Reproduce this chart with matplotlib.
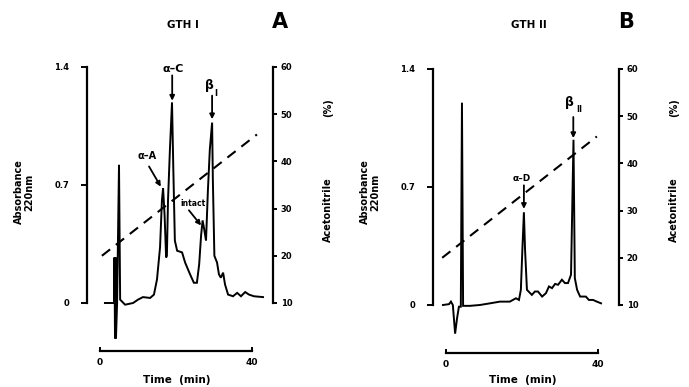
import numpy as np
import matplotlib.pyplot as plt

t_a = [1.3, 3.4, 3.7, 3.8, 3.95, 4.1, 4.2, 4.5, 5.0, 5.3, 6.6, 8.7, 10.0, 11.3,
       13.2, 14.2, 15.0, 15.8, 16.3, 16.6, 17.0, 17.4, 17.6, 17.9, 18.4, 18.95,
       19.3, 19.7, 20.3, 21.6, 22.4, 23.7, 24.7, 25.5, 26.1, 26.6, 27.0, 27.4,
       27.9, 28.4, 28.9, 29.5, 29.7, 30.1, 30.8, 31.3, 31.8, 32.4, 32.9, 33.7,
       35.0, 36.1, 37.1, 38.2, 39.2, 40.5, 42.9]
abs_a = [0.0, 0.0, 0.0, 0.27, -0.21, 0.27, -0.21, 0.0, 0.82, 0.02, -0.01, 0.0,
         0.02, 0.035, 0.03, 0.05, 0.14, 0.33, 0.61, 0.68, 0.52, 0.27, 0.28,
         0.61, 0.91, 1.19, 0.79, 0.37, 0.31, 0.30, 0.24, 0.17, 0.12, 0.12, 0.23,
         0.40, 0.49, 0.44, 0.37, 0.67, 0.91, 1.07, 0.73, 0.28, 0.24, 0.17, 0.15,
         0.18, 0.11, 0.05, 0.04, 0.06, 0.04, 0.065, 0.05, 0.04, 0.035]

t_b = [-0.8, 0.8, 1.3, 1.8, 2.4, 2.9, 3.4, 3.9, 4.2, 4.5, 6.3, 8.9, 11.6, 14.2,
       16.8, 18.4, 19.2, 19.7, 20.1, 20.5, 20.8, 21.3, 22.6, 23.4, 24.2, 25.3,
       26.3, 27.1, 27.9, 28.7, 29.5, 30.5, 31.3, 32.1, 32.9, 33.55, 33.9, 34.5,
       35.3, 36.1, 36.8, 37.6, 38.7, 39.7, 40.8]
abs_b = [0.0, 0.005, 0.02, 0.0, -0.17, -0.08, -0.01, -0.01, 1.20, -0.005,
         -0.005, 0.0, 0.01, 0.02, 0.02, 0.04, 0.03, 0.09, 0.33, 0.55, 0.33, 0.09,
         0.06, 0.08, 0.08, 0.05, 0.07, 0.11, 0.10, 0.125, 0.12, 0.15, 0.13, 0.13,
         0.18, 0.98, 0.16, 0.09, 0.05, 0.05, 0.05, 0.03, 0.03, 0.02, 0.01]

# Gradiente de acetonitrilo (%)
grad_a_t = [0.5, 41.3]
grad_b_t = [-1.0, 39.7]
grad_acn = [20, 45.7]

abs_ticks = [0, 0.7, 1.4]
abs_ticklabels = ['0', '0.7', '1.4']
acn_ticks = [10, 20, 30, 40, 50, 60]
time_ticks = [0, 40]

W, H = 689, 387
PX_MIN = 3.8      # pixeles por minuto
PX_ABS = 168.6    # pixeles por unidad de absorbancia
TMIN, TMAX = -10, 50
AMIN, AMAX = -0.45, 1.6


def acn_de_abs(a):
    return 10 + a * 50 / 1.4


def panel(fig, x0, y0, t, a, gt, titulo, letra):
    left = (x0 + PX_MIN * TMIN) / W
    width = PX_MIN * (TMAX - TMIN) / W
    bottom = (H - (y0 - PX_ABS * AMIN)) / H
    height = PX_ABS * (AMAX - AMIN) / H
    ax = fig.add_axes([left, bottom, width, height])
    ax.set_xlim(TMIN, TMAX)
    ax.set_ylim(AMIN, AMAX)
    ax.patch.set_visible(False)

    ax.plot(t, a, color='k', lw=1.4, solid_joinstyle='miter')

    for s in ['top', 'right']:
        ax.spines[s].set_visible(False)
    ax.spines['left'].set_position(('data', -3.3))
    ax.spines['left'].set_bounds(0, 1.4)
    ax.spines['left'].set_linewidth(1.6)
    ax.spines['bottom'].set_position(('data', -0.285))
    ax.spines['bottom'].set_bounds(0, 40)
    ax.spines['bottom'].set_linewidth(1.6)
    ax.set_yticks(abs_ticks)
    ax.set_yticklabels(abs_ticklabels)
    ax.set_xticks(time_ticks)
    ax.tick_params(axis='y', direction='out', length=4, width=1.4, pad=9,
                   labelsize=6)
    ax.tick_params(axis='x', direction='in', length=3, width=1.4, pad=5,
                   labelsize=6.5)
    for lab in ax.get_xticklabels() + ax.get_yticklabels():
        lab.set_fontweight('bold')

    ax2 = ax.twinx()
    ax2.set_ylim(acn_de_abs(AMIN), acn_de_abs(AMAX))
    for s in ['top', 'left', 'bottom']:
        ax2.spines[s].set_visible(False)
    ax2.spines['right'].set_position(('data', 45.4))
    ax2.spines['right'].set_bounds(10, 60)
    ax2.spines['right'].set_linewidth(1.6)
    ax2.set_yticks(acn_ticks)
    ax2.tick_params(axis='y', direction='out', length=3, width=1.4, pad=3,
                    labelsize=6)
    for lab in ax2.get_yticklabels():
        lab.set_fontweight('bold')
    ax2.plot(gt, grad_acn, color='k', lw=1.5, dashes=(5, 3.5))

    # etiquetas de los ejes
    fig.text((x0 - 76) / W, 1 - 192 / H, 'Absorbance\n220nm', rotation=90,
             ha='center', va='center', fontsize=7, fontweight='bold',
             linespacing=1.0)
    fig.text((x0 + 228) / W, 1 - 210 / H, 'Acetonitrile', rotation=90,
             ha='center', va='center', fontsize=7, fontweight='bold')
    fig.text((x0 + 228) / W, 1 - 108 / H, '(%)', rotation=90,
             ha='center', va='center', fontsize=7, fontweight='bold')
    fig.text((x0 + 77) / W, 1 - 380 / H, 'Time  (min)', ha='center',
             va='center', fontsize=7.5, fontweight='bold')
    fig.text((x0 + 83) / W, 1 - 25 / H, titulo, ha='center', va='center',
             fontsize=7.5, fontweight='bold')
    fig.text((x0 + 180) / W, 1 - 22 / H, letra, ha='center', va='center',
             fontsize=15, fontweight='bold')
    return ax


def flecha(ax, cola, punta):
    ax.annotate('', xy=punta, xytext=cola,
                arrowprops=dict(arrowstyle='-|>', color='k', lw=1.3,
                                mutation_scale=7, shrinkA=0, shrinkB=0))


fig = plt.figure(figsize=(W / 100, H / 100), dpi=100)

axA = panel(fig, 100, 303, t_a, abs_a, grad_a_t, 'GTH I', 'A')
axA.text(19.2, 1.39, 'α–C', ha='center', va='center', fontsize=8,
         fontweight='bold')
flecha(axA, (19.0, 1.35), (19.0, 1.20))
axA.text(28.7, 1.29, 'β', ha='center', va='center', fontsize=9,
         fontweight='bold')
axA.text(30.4, 1.24, 'I', ha='center', va='center', fontsize=6,
         fontweight='bold')
flecha(axA, (29.5, 1.23), (29.5, 1.09))
axA.text(12.4, 0.87, 'α–A', ha='center', va='center', fontsize=7,
         fontweight='bold')
flecha(axA, (12.9, 0.81), (16.0, 0.69))
axA.text(24.5, 0.59, 'intact', ha='center', va='center', fontsize=5.5,
         fontweight='bold')
flecha(axA, (23.4, 0.55), (26.6, 0.46))

axB = panel(fig, 446, 305, t_b, abs_b, grad_b_t, 'GTH II', 'B')
axB.text(20.0, 0.75, 'α–D', ha='center', va='center', fontsize=6.5,
         fontweight='bold')
flecha(axB, (20.5, 0.71), (20.5, 0.57))
axB.text(32.6, 1.20, 'β', ha='center', va='center', fontsize=9,
         fontweight='bold')
axB.text(35.0, 1.16, 'II', ha='center', va='center', fontsize=6,
         fontweight='bold')
flecha(axB, (33.5, 1.115), (33.5, 0.99))

fig.savefig('out.png', dpi=100)
